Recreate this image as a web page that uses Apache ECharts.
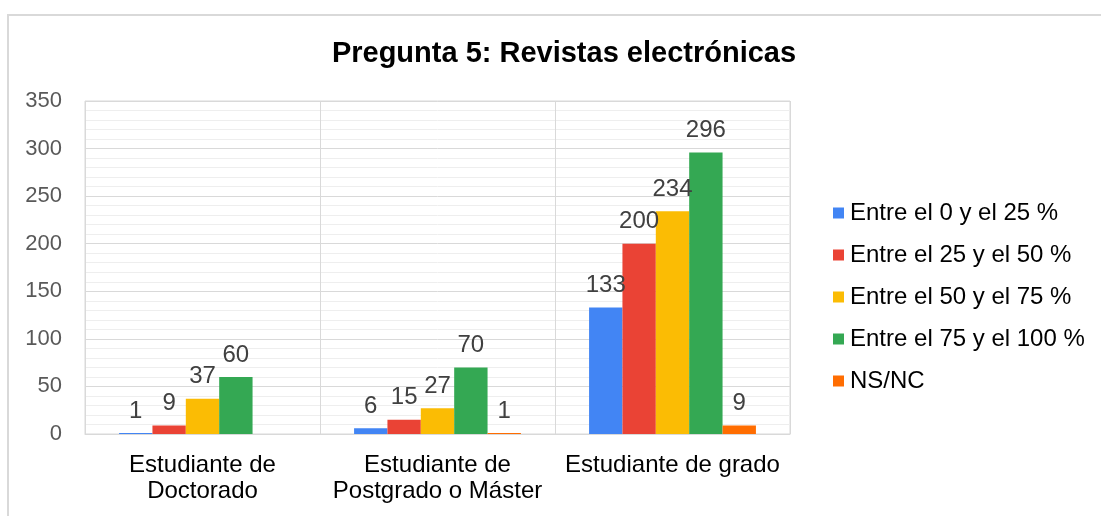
<!DOCTYPE html>
<html>
<head>
<meta charset="utf-8">
<script src="https://cdn.jsdelivr.net/npm/echarts@6/dist/echarts.min.js"></script>
<style>
  html, body { margin: 0; padding: 0; background: #fff; }
  #frame { position: absolute; left: 7px; top: 14px; width: 1200px; height: 600px;
           border-left: 2px solid #d9d9d9; border-top: 2px solid #d9d9d9; }
  #chart { position: absolute; left: 0; top: 0; width: 1101px; height: 516px; }
</style>
</head>
<body>
<div id="frame"></div>
<div id="chart"></div>
<script>
const categories = ['Estudiante de\nDoctorado', 'Estudiante de\nPostgrado o Máster', 'Estudiante de grado'];
const seriesNames = ['Entre el 0 y el 25 %', 'Entre el 25 y el 50 %', 'Entre el 50 y el 75 %', 'Entre el 75 y el 100 %', 'NS/NC'];
const colors = ['#4285f4', '#ea4335', '#fbbc04', '#34a853', '#ff6d01'];
const entre0y25 = [1, 6, 133];
const entre25y50 = [9, 15, 200];
const entre50y75 = [37, 27, 234];
const entre75y100 = [60, 70, 296];
const nsnc = [null, 1, 9];
const values = [entre0y25, entre25y50, entre50y75, entre75y100, nsnc];

const chartDom = document.getElementById('chart');
const myChart = echarts.init(chartDom);
const font = 'Liberation Sans, Arial, sans-serif';

const option = {
  animation: false,
  color: colors,
  textStyle: { fontFamily: font },
  title: {
    text: 'Pregunta 5: Revistas electrónicas',
    left: 559,
    top: 34,
    textAlign: 'center',
    textStyle: { fontFamily: font, fontSize: 29, fontWeight: 'bold', color: '#000' }
  },
  legend: {
    orient: 'vertical',
    left: 833,
    top: 201,
    padding: 0,
    itemWidth: 11,
    itemHeight: 11,
    itemGap: 18,
    icon: 'rect',
    textStyle: { fontFamily: font, fontSize: 24, color: '#000', padding: [0, 0, 0, 1] },
    data: seriesNames
  },
  grid: {
    left: 85,
    right: 311,
    top: 101,
    bottom: 82,
    show: true,
    borderColor: '#d9d9d9',
    borderWidth: 1
  },
  xAxis: {
    type: 'category',
    data: categories,
    axisTick: { show: false },
    axisLine: { lineStyle: { color: '#d9d9d9', width: 1 } },
    splitLine: { show: true, lineStyle: { color: '#d9d9d9', width: 1 } },
    axisLabel: { fontFamily: font, fontSize: 24, color: '#000', lineHeight: 26, margin: 18, interval: 0 }
  },
  yAxis: {
    type: 'value',
    min: 0,
    max: 350,
    interval: 50,
    axisLine: { show: false },
    axisTick: { show: false },
    axisLabel: { fontFamily: font, fontSize: 22, color: '#595959', margin: 23 },
    splitLine: { lineStyle: { color: '#d9d9d9', width: 1 } },
    minorTick: { show: false, splitNumber: 5 },
    minorSplitLine: { show: true, lineStyle: { color: '#eeeeee', width: 1 } }
  },
  series: seriesNames.map((name, i) => ({
    name: name,
    type: 'bar',
    data: values[i],
    barGap: '0%',
    barCategoryGap: '29%',
    label: {
      show: true,
      position: 'top',
      distance: 10,
      fontFamily: font,
      fontSize: 24,
      color: '#404040'
    }
  }))
};

myChart.setOption(option);
</script>
</body>
</html>
